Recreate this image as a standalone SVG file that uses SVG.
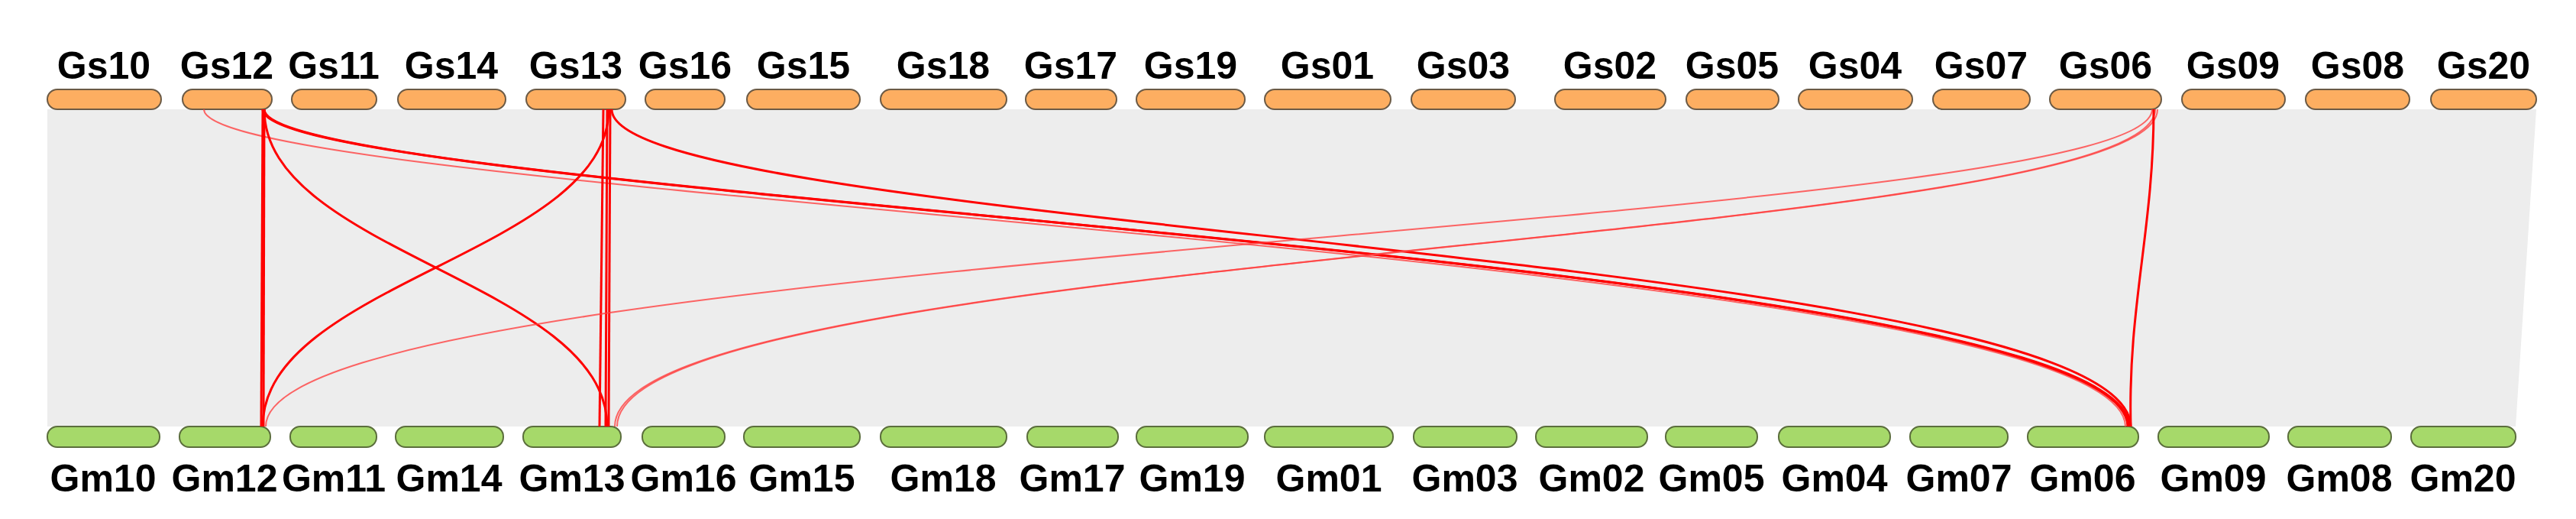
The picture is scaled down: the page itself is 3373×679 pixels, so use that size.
<svg xmlns="http://www.w3.org/2000/svg" width="3373" height="679" viewBox="0 0 3373 679">
<style>
.t{font-family:"Liberation Sans",Arial,sans-serif;font-weight:bold;font-size:50px;text-anchor:middle;fill:#000}
.gs{fill:#fdae61;stroke:#6b5a45;stroke-width:2}
.gm{fill:#a6d96a;stroke:#5b6e3c;stroke-width:2}
.r{fill:none;stroke:#ff0000;stroke-width:3}
.rt{fill:none;stroke:#ff4040;stroke-width:2;opacity:0.8}
</style>
<rect width="3373" height="679" fill="#fff"/>
<polygon points="62,143 3321,143 3294,558 62,558" fill="#ededed"/>
<g id="top">
<g id="Gs10"><rect class="gs" x="62" y="117" width="149" height="26" rx="13"/><text class="t" x="136" y="103">Gs10</text></g>
<g id="Gs12"><rect class="gs" x="239" y="117" width="117" height="26" rx="13"/><text class="t" x="297" y="103">Gs12</text></g>
<g id="Gs11"><rect class="gs" x="382" y="117" width="111" height="26" rx="13"/><text class="t" x="437" y="103">Gs11</text></g>
<g id="Gs14"><rect class="gs" x="521" y="117" width="141" height="26" rx="13"/><text class="t" x="591" y="103">Gs14</text></g>
<g id="Gs13"><rect class="gs" x="689" y="117" width="130" height="26" rx="13"/><text class="t" x="754" y="103">Gs13</text></g>
<g id="Gs16"><rect class="gs" x="845" y="117" width="104" height="26" rx="13"/><text class="t" x="897" y="103">Gs16</text></g>
<g id="Gs15"><rect class="gs" x="978" y="117" width="148" height="26" rx="13"/><text class="t" x="1052" y="103">Gs15</text></g>
<g id="Gs18"><rect class="gs" x="1153" y="117" width="165" height="26" rx="13"/><text class="t" x="1235" y="103">Gs18</text></g>
<g id="Gs17"><rect class="gs" x="1343" y="117" width="119" height="26" rx="13"/><text class="t" x="1402" y="103">Gs17</text></g>
<g id="Gs19"><rect class="gs" x="1488" y="117" width="142" height="26" rx="13"/><text class="t" x="1559" y="103">Gs19</text></g>
<g id="Gs01"><rect class="gs" x="1656" y="117" width="165" height="26" rx="13"/><text class="t" x="1738" y="103">Gs01</text></g>
<g id="Gs03"><rect class="gs" x="1848" y="117" width="136" height="26" rx="13"/><text class="t" x="1916" y="103">Gs03</text></g>
<g id="Gs02"><rect class="gs" x="2036" y="117" width="145" height="26" rx="13"/><text class="t" x="2108" y="103">Gs02</text></g>
<g id="Gs05"><rect class="gs" x="2208" y="117" width="121" height="26" rx="13"/><text class="t" x="2268" y="103">Gs05</text></g>
<g id="Gs04"><rect class="gs" x="2355" y="117" width="149" height="26" rx="13"/><text class="t" x="2429" y="103">Gs04</text></g>
<g id="Gs07"><rect class="gs" x="2531" y="117" width="127" height="26" rx="13"/><text class="t" x="2594" y="103">Gs07</text></g>
<g id="Gs06"><rect class="gs" x="2684" y="117" width="146" height="26" rx="13"/><text class="t" x="2757" y="103">Gs06</text></g>
<g id="Gs09"><rect class="gs" x="2857" y="117" width="135" height="26" rx="13"/><text class="t" x="2924" y="103">Gs09</text></g>
<g id="Gs08"><rect class="gs" x="3019" y="117" width="136" height="26" rx="13"/><text class="t" x="3087" y="103">Gs08</text></g>
<g id="Gs20"><rect class="gs" x="3183" y="117" width="138" height="26" rx="13"/><text class="t" x="3252" y="103">Gs20</text></g>
</g>
<g id="bottom">
<g id="Gm10"><rect class="gm" x="62" y="558" width="147" height="27" rx="13"/><text class="t" x="135" y="643">Gm10</text></g>
<g id="Gm12"><rect class="gm" x="235" y="558" width="119" height="27" rx="13"/><text class="t" x="294" y="643">Gm12</text></g>
<g id="Gm11"><rect class="gm" x="380" y="558" width="113" height="27" rx="13"/><text class="t" x="437" y="643">Gm11</text></g>
<g id="Gm14"><rect class="gm" x="518" y="558" width="141" height="27" rx="13"/><text class="t" x="588" y="643">Gm14</text></g>
<g id="Gm13"><rect class="gm" x="685" y="558" width="128" height="27" rx="13"/><text class="t" x="749" y="643">Gm13</text></g>
<g id="Gm16"><rect class="gm" x="841" y="558" width="108" height="27" rx="13"/><text class="t" x="895" y="643">Gm16</text></g>
<g id="Gm15"><rect class="gm" x="974" y="558" width="152" height="27" rx="13"/><text class="t" x="1050" y="643">Gm15</text></g>
<g id="Gm18"><rect class="gm" x="1153" y="558" width="165" height="27" rx="13"/><text class="t" x="1235" y="643">Gm18</text></g>
<g id="Gm17"><rect class="gm" x="1345" y="558" width="119" height="27" rx="13"/><text class="t" x="1404" y="643">Gm17</text></g>
<g id="Gm19"><rect class="gm" x="1488" y="558" width="146" height="27" rx="13"/><text class="t" x="1561" y="643">Gm19</text></g>
<g id="Gm01"><rect class="gm" x="1656" y="558" width="168" height="27" rx="13"/><text class="t" x="1740" y="643">Gm01</text></g>
<g id="Gm03"><rect class="gm" x="1851" y="558" width="135" height="27" rx="13"/><text class="t" x="1918" y="643">Gm03</text></g>
<g id="Gm02"><rect class="gm" x="2011" y="558" width="146" height="27" rx="13"/><text class="t" x="2084" y="643">Gm02</text></g>
<g id="Gm05"><rect class="gm" x="2181" y="558" width="120" height="27" rx="13"/><text class="t" x="2241" y="643">Gm05</text></g>
<g id="Gm04"><rect class="gm" x="2329" y="558" width="146" height="27" rx="13"/><text class="t" x="2402" y="643">Gm04</text></g>
<g id="Gm07"><rect class="gm" x="2501" y="558" width="128" height="27" rx="13"/><text class="t" x="2565" y="643">Gm07</text></g>
<g id="Gm06"><rect class="gm" x="2655" y="558" width="145" height="27" rx="13"/><text class="t" x="2727" y="643">Gm06</text></g>
<g id="Gm09"><rect class="gm" x="2826" y="558" width="145" height="27" rx="13"/><text class="t" x="2898" y="643">Gm09</text></g>
<g id="Gm08"><rect class="gm" x="2996" y="558" width="135" height="27" rx="13"/><text class="t" x="3063" y="643">Gm08</text></g>
<g id="Gm20"><rect class="gm" x="3157" y="558" width="137" height="27" rx="13"/><text class="t" x="3225" y="643">Gm20</text></g>
</g>
<g id="connectors">
<path class="rt" d="M267,143 C267,260 2780,330 2783,558"/>
<path class="r" d="M344,143 C344,260 2784,330 2786,558"/>
<path class="r" d="M346,143 C346,260 2787,330 2788,558"/>
<path class="r" d="M344,143 L342,558"/>
<path class="r" d="M346,143 L345,558"/>
<path class="r" d="M346,143 C346,330 795,370 795,558"/>
<path class="r" d="M797,143 C797,330 344,370 344,558"/>
<path class="r" d="M790,143 L785,558"/>
<path class="r" d="M795,143 L793,558"/>
<path class="r" d="M799,143 L797,558"/>
<path class="r" d="M801,143 C801,300 2786,330 2790,558"/>
<path class="rt" d="M2818,143 C2818,300 348,330 348,558"/>
<path class="rt" d="M2822,143 C2822,320 805,330 805,558"/>
<path class="rt" d="M2825,143 C2825,320 808,330 808,558"/>
<path class="r" d="M2820,143 C2820,300 2786,400 2790,558"/>
</g>
</svg>
